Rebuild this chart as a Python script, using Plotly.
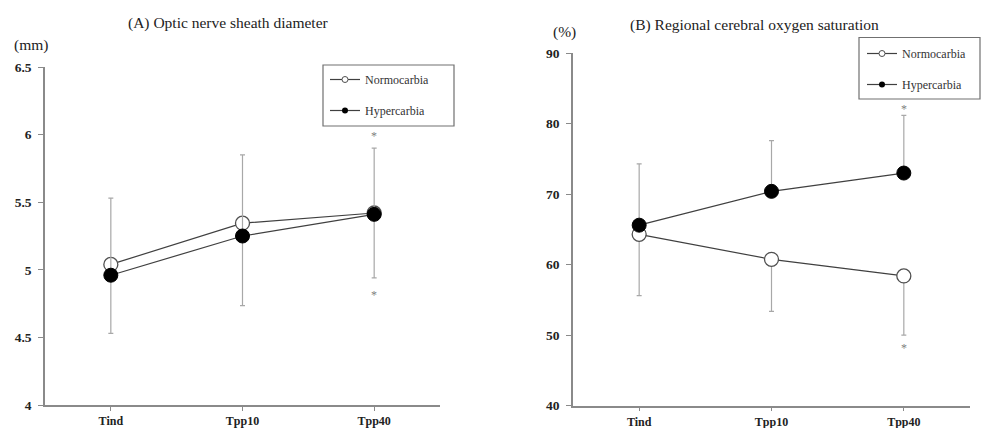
import plotly.graph_objects as go

# ---- data ----
categories = ["Tind", "Tpp10", "Tpp40"]

onsd_normo_mean = [5.04, 5.345, 5.42]
onsd_normo_sd = [0.51, 0.61, 0.48]
onsd_hyper_mean = [4.96, 5.25, 5.41]
onsd_hyper_sd = [0.57, 0.60, 0.49]

rso2_normo_mean = [64.3, 60.75, 58.4]
rso2_normo_sd = [8.7, 7.4, 8.4]
rso2_hyper_mean = [65.6, 70.4, 73.0]
rso2_hyper_sd = [8.7, 7.2, 8.2]

onsd_ticks = [4, 4.5, 5, 5.5, 6, 6.5]
rso2_ticks = [40, 50, 60, 70, 80, 90]

FONT = "Liberation Serif"
AXIS_GREY = "#8a8a8a"
LINE_COL = "#404040"
ERR_COL = "#a8a8a8"

fig = go.Figure()

def add_pair(xa, ya, nm, nsd, hm, hsd, legend):
    zeros = [0] * len(categories)
    fig.add_trace(go.Scatter(
        x=categories, y=nm, xaxis=xa, yaxis=ya, mode="lines+markers",
        name="Normocarbia", showlegend=False,
        line=dict(color=LINE_COL, width=1.2),
        marker=dict(symbol="circle", size=14, color="white",
                    line=dict(color="#505050", width=1.3)),
        error_y=dict(type="data", symmetric=False, array=zeros, arrayminus=nsd,
                     color=ERR_COL, thickness=1.2, width=2.5),
    ))
    fig.add_trace(go.Scatter(
        x=categories, y=hm, xaxis=xa, yaxis=ya, mode="lines+markers",
        name="Hypercarbia", showlegend=False,
        line=dict(color=LINE_COL, width=1.2),
        marker=dict(symbol="circle", size=14, color="black",
                    line=dict(color="black", width=1)),
        error_y=dict(type="data", symmetric=False, array=hsd, arrayminus=zeros,
                     color=ERR_COL, thickness=1.2, width=2.5),
    ))
    # legend entries
    fig.add_trace(go.Scatter(
        x=[None], y=[None], xaxis=xa, yaxis=ya, mode="lines+markers",
        name="Normocarbia", legend=legend, legendgroup=legend + "n",
        line=dict(color=LINE_COL, width=1.2),
        marker=dict(symbol="circle", size=6, color="white",
                    line=dict(color="#505050", width=1)),
    ))
    fig.add_trace(go.Scatter(
        x=[None], y=[None], xaxis=xa, yaxis=ya, mode="lines+markers",
        name="Hypercarbia", legend=legend, legendgroup=legend + "h",
        line=dict(color=LINE_COL, width=1.2),
        marker=dict(symbol="circle", size=6, color="black"),
    ))

add_pair("x", "y", onsd_normo_mean, onsd_normo_sd, onsd_hyper_mean, onsd_hyper_sd, "legend")
add_pair("x2", "y2", rso2_normo_mean, rso2_normo_sd, rso2_hyper_mean, rso2_hyper_sd, "legend2")

W, H = 981, 428

def xax(d0, d1):
    return dict(domain=[d0 / W, d1 / W], type="category", categoryorder="array",
                categoryarray=categories, range=[-0.5, 2.5], automargin=False,
                showline=True, linecolor=AXIS_GREY, linewidth=1.5,
                ticks="outside", ticklen=4, tickcolor=AXIS_GREY, tickwidth=1,
                showgrid=False, zeroline=False, ticklabelstandoff=0,
                tickfont=dict(family=FONT, size=12, color="#222222", weight="bold"))

def yax(top, bottom, rng, ticks, anchor):
    return dict(domain=[1 - bottom / H, 1 - top / H], range=rng, automargin=False,
                tickvals=ticks, ticktext=[f"{t:g}" for t in ticks],
                showline=True, linecolor=AXIS_GREY, linewidth=1.5,
                ticks="outside", ticklen=5, tickcolor=AXIS_GREY, tickwidth=1,
                showgrid=False, zeroline=False, anchor=anchor, ticklabelstandoff=4,
                tickfont=dict(family=FONT, size=13.5, color="#222222", weight="bold"))

legend_common = dict(bgcolor="rgba(0,0,0,0)", borderwidth=0,
                     font=dict(family=FONT, size=12, color="#333333"),
                     xanchor="left", yanchor="top", tracegroupgap=12,
                     itemwidth=30)

fig.update_layout(
    width=W, height=H,
    margin=dict(l=0, r=0, t=0, b=0, autoexpand=False),
    paper_bgcolor="white", plot_bgcolor="white",
    xaxis=xax(45, 440) | dict(anchor="y"),
    yaxis=yax(67, 405, [4, 6.5], onsd_ticks, "x"),
    xaxis2=xax(573, 970) | dict(anchor="y2"),
    yaxis2=yax(53.3, 405.5, [40, 90], rso2_ticks, "x2"),
    legend=legend_common | dict(x=325 / W, y=1 - 65 / H),
    legend2=legend_common | dict(x=862 / W, y=1 - 39 / H),
    font=dict(family=FONT),
)

def box(x0, y0, x1, y1):
    return dict(type="rect", xref="paper", yref="paper",
                x0=x0 / W, x1=x1 / W, y0=1 - y1 / H, y1=1 - y0 / H,
                line=dict(color="#707070", width=1.2), fillcolor="white",
                layer="below")

fig.update_layout(shapes=[box(323, 65, 454, 126), box(859, 37.5, 980, 99)])

def label(text, x, y, size):
    return dict(text=text, x=x / W, y=1 - y / H, xref="paper", yref="paper",
                xanchor="center", yanchor="middle", showarrow=False,
                font=dict(family=FONT, size=size, color="#222222"))

star_font = dict(family=FONT, size=12, color="#808080")
annotations = [
    label("(A) Optic nerve sheath diameter", 228, 23, 15.5),
    label("(B) Regional cerebral oxygen saturation", 754, 25, 15.5),
    label("(mm)", 31, 45, 15.5),
    label("(%)", 564, 32, 15.5),
    dict(text="*", x="Tpp40", y=5.99, xref="x", yref="y", showarrow=False, font=star_font),
    dict(text="*", x="Tpp40", y=4.81, xref="x", yref="y", showarrow=False, font=star_font),
    dict(text="*", x="Tpp40", y=82.1, xref="x2", yref="y2", showarrow=False, font=star_font),
    dict(text="*", x="Tpp40", y=48.2, xref="x2", yref="y2", showarrow=False, font=star_font),
]
fig.update_layout(annotations=annotations)

fig.write_html("out.html", post_script="document.body.style.margin='0';",
               config={"displayModeBar": False})
